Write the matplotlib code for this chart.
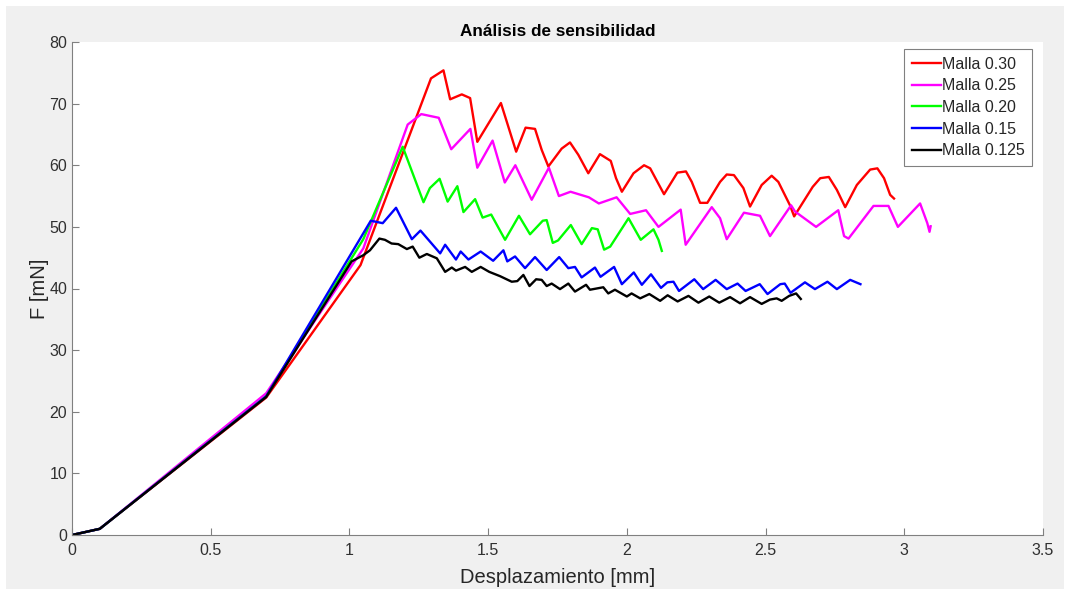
import matplotlib
matplotlib.use('Agg')
import matplotlib.pyplot as plt
from matplotlib.patches import Rectangle
from matplotlib.ticker import FuncFormatter

# malla 0.30
x_030 = [0, 0.1, 0.7, 1.04, 1.294, 1.339, 1.363, 1.405, 1.435, 1.461,
         1.546, 1.569, 1.601, 1.635, 1.669, 1.693, 1.717, 1.765, 1.795, 1.825,
         1.861, 1.903, 1.942, 1.961, 1.982, 2.024, 2.062, 2.084, 2.134, 2.182,
         2.213, 2.234, 2.264, 2.290, 2.336, 2.360, 2.386, 2.420, 2.444, 2.486,
         2.522, 2.546, 2.588, 2.603, 2.670, 2.697, 2.728, 2.757, 2.787, 2.829,
         2.877, 2.903, 2.927, 2.949, 2.963]
f_030 = [0, 1.0, 22.3, 43.8, 74.1, 75.4, 70.7, 71.5, 70.9, 63.8,
         70.1, 66.8, 62.2, 66.1, 65.9, 62.5, 59.8, 62.7, 63.7, 61.7,
         58.7, 61.8, 60.7, 57.9, 55.7, 58.7, 60.0, 59.5, 55.3, 58.8,
         59.0, 57.3, 53.9, 53.9, 57.3, 58.5, 58.4, 56.3, 53.3, 56.8,
         58.3, 57.3, 53.5, 51.7, 56.5, 57.9, 58.1, 56.0, 53.2, 56.8,
         59.3, 59.5, 57.9, 55.2, 54.6]

# malla 0.25
x_025 = [0, 0.1, 0.7, 1.05, 1.21, 1.259, 1.322, 1.367, 1.436, 1.461,
         1.516, 1.560, 1.598, 1.657, 1.719, 1.755, 1.797, 1.863, 1.899, 1.963,
         2.012, 2.069, 2.114, 2.194, 2.212, 2.306, 2.336, 2.360, 2.422, 2.480,
         2.516, 2.592, 2.606, 2.682, 2.762, 2.783, 2.799, 2.889, 2.943, 2.977,
         3.057, 3.083, 3.091, 3.095]
f_025 = [0, 1.0, 23.0, 46.5, 66.6, 68.3, 67.7, 62.6, 65.9, 59.6,
         64.0, 57.2, 60.0, 54.4, 59.6, 55.0, 55.7, 54.8, 53.8, 54.8,
         52.1, 52.7, 50.0, 52.8, 47.1, 53.2, 51.4, 48.0, 52.3, 51.8,
         48.5, 53.5, 52.5, 50.0, 52.7, 48.5, 48.1, 53.4, 53.4, 50.0,
         53.8, 50.6, 49.2, 50.1]

# malla 0.20
x_020 = [0, 0.1, 0.7, 1.05, 1.192, 1.267, 1.290, 1.325, 1.354, 1.389,
         1.411, 1.453, 1.480, 1.511, 1.561, 1.611, 1.651, 1.697, 1.711, 1.733,
         1.752, 1.798, 1.837, 1.874, 1.895, 1.918, 1.940, 2.006, 2.050, 2.096,
         2.114, 2.126]
f_020 = [0, 1.0, 22.5, 48.0, 63.0, 54.0, 56.3, 57.8, 54.1, 56.6,
         52.4, 54.5, 51.5, 52.0, 47.9, 51.8, 48.8, 51.0, 51.1, 47.4,
         47.8, 50.3, 47.2, 49.8, 49.6, 46.3, 46.8, 51.4, 47.9, 49.6,
         47.9, 46.1]

# malla 0.15
x_015 = [0, 0.1, 0.7, 1.077, 1.120, 1.168, 1.225, 1.256, 1.327, 1.345,
         1.384, 1.401, 1.429, 1.473, 1.518, 1.555, 1.569, 1.597, 1.633, 1.669,
         1.711, 1.756, 1.789, 1.813, 1.837, 1.885, 1.905, 1.954, 1.982, 2.025,
         2.054, 2.087, 2.123, 2.146, 2.168, 2.188, 2.243, 2.275, 2.320, 2.360,
         2.399, 2.428, 2.479, 2.507, 2.553, 2.569, 2.590, 2.642, 2.678, 2.723,
         2.757, 2.805, 2.842]
f_015 = [0, 1.0, 22.5, 51.0, 50.6, 53.1, 48.0, 49.4, 45.7, 47.1,
         44.7, 46.0, 44.7, 46.0, 44.5, 46.2, 44.4, 45.2, 43.3, 45.1,
         43.0, 45.1, 43.3, 43.5, 41.8, 43.4, 41.9, 43.5, 40.7, 42.6,
         40.6, 42.3, 40.1, 41.0, 41.1, 39.6, 41.5, 39.9, 41.4, 39.9,
         40.8, 39.6, 40.7, 39.1, 40.7, 40.8, 39.3, 41.0, 39.9, 41.1,
         39.9, 41.4, 40.7]

# malla 0.125
x_0125 = [0, 0.1, 0.7, 1.008, 1.05, 1.074, 1.108, 1.128, 1.152, 1.176,
          1.207, 1.228, 1.252, 1.279, 1.315, 1.345, 1.369, 1.384, 1.417, 1.441,
          1.473, 1.504, 1.543, 1.585, 1.605, 1.627, 1.649, 1.673, 1.693, 1.711,
          1.729, 1.759, 1.789, 1.813, 1.853, 1.867, 1.915, 1.933, 1.957, 2.0,
          2.017, 2.048, 2.081, 2.12, 2.147, 2.183, 2.222, 2.258, 2.297, 2.333,
          2.372, 2.408, 2.444, 2.486, 2.516, 2.54, 2.558, 2.585, 2.61, 2.627]
f_0125 = [0, 1.0, 22.4, 44.4, 45.4, 46.2, 48.1, 47.9, 47.3, 47.2,
          46.4, 46.8, 45.0, 45.6, 44.9, 42.7, 43.4, 42.9, 43.5, 42.7,
          43.5, 42.7, 42.0, 41.1, 41.2, 42.2, 40.4, 41.5, 41.4, 40.4,
          40.8, 39.9, 40.8, 39.5, 40.6, 39.8, 40.2, 39.2, 39.8, 38.7,
          39.2, 38.4, 39.1, 38.0, 38.9, 37.9, 38.8, 37.7, 38.7, 37.7,
          38.6, 37.6, 38.6, 37.5, 38.2, 38.4, 38.0, 38.8, 39.2, 38.3]

labels = ['Malla 0.30', 'Malla 0.25', 'Malla 0.20', 'Malla 0.15', 'Malla 0.125']
colores = ['#ff0000', '#ff00ff', '#00ff00', '#0000ff', '#000000']
series = [(x_030, f_030), (x_025, f_025), (x_020, f_020), (x_015, f_015), (x_0125, f_0125)]

plt.rcParams['font.family'] = ['Liberation Sans', 'DejaVu Sans']

W, H = 1071, 589
fig = plt.figure(figsize=(W / 100, H / 100), dpi=100, facecolor='white')
# gray matlab figure area inside a thin white border
fig.patches.append(Rectangle((6 / W, 0), (1064 - 6) / W, (H - 6) / H,
                             transform=fig.transFigure, facecolor='#f0f0f0',
                             edgecolor='none', zorder=-10))

ax = fig.add_axes([72 / W, (H - 535) / H, (1043 - 72) / W, (535 - 42) / H])
ax.set_facecolor('white')

for (xs, ys), lab, c in zip(series, labels, colores):
    ax.plot(xs, ys, color=c, linewidth=1.7, label=lab)

ax.set_xlim(0, 3.5)
ax.set_ylim(0, 80)
ax.set_xticks([0, 0.5, 1, 1.5, 2, 2.5, 3, 3.5])
ax.set_yticks(range(0, 81, 10))
ax.xaxis.set_major_formatter(FuncFormatter(lambda v, p: f'{v:g}'))
ax.spines['top'].set_visible(False)
ax.spines['right'].set_visible(False)
for s in ['left', 'bottom']:
    ax.spines[s].set_color('#808080')
    ax.spines[s].set_linewidth(0.8)
ax.tick_params(direction='in', length=5, width=0.8, color='#808080',
               labelcolor='#303030', labelsize=11.5)
ax.tick_params(axis='x', pad=6)

ax.set_xlabel('Desplazamiento [mm]', fontsize=14.5, color='#262626', labelpad=7)
ax.set_ylabel('F [mN]', fontsize=14.5, color='#262626', labelpad=0)
ax.set_title('Análisis de sensibilidad', fontsize=12.3, fontweight='bold',
             color='black', pad=4)

leg = ax.legend(loc='upper right', bbox_to_anchor=(0.9885, 0.985), fontsize=11.5,
                handlelength=1.85, handletextpad=0.05, borderpad=0.45,
                labelspacing=0.42, fancybox=False, framealpha=1,
                edgecolor='#808080', borderaxespad=0)
leg.get_frame().set_linewidth(0.8)
for t in leg.get_texts():
    t.set_color('#262626')

fig.savefig('out.png', dpi=100, facecolor=fig.get_facecolor())
